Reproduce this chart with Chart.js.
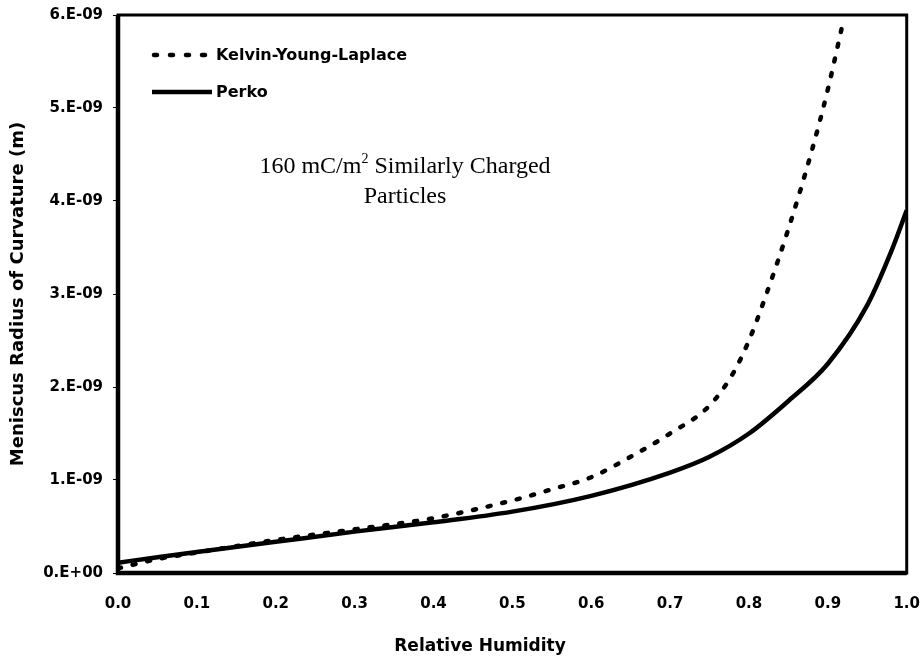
<!DOCTYPE html>
<html>
<head>
<meta charset="utf-8">
<script src="https://cdn.jsdelivr.net/npm/chart.js@4/dist/chart.umd.min.js"></script>
<style>
html,body{margin:0;padding:0;background:#fff;}
#wrap{width:922px;height:662px;}
</style>
</head>
<body>
<div id="wrap"><canvas id="c" width="922" height="662"></canvas></div>
<script>
const kelvinX = [0, 0.05, 0.1, 0.2, 0.3, 0.4, 0.5, 0.55, 0.6, 0.65, 0.7, 0.75, 0.78, 0.8, 0.82, 0.85, 0.88, 0.9, 0.92];
const kelvinY = [0.05e-9, 0.15e-9, 0.22e-9, 0.355e-9, 0.47e-9, 0.59e-9, 0.78e-9, 0.9e-9, 1.03e-9, 1.25e-9, 1.5e-9, 1.8e-9, 2.15e-9, 2.5e-9, 2.95e-9, 3.7e-9, 4.55e-9, 5.2e-9, 5.95e-9];
const perkoX = [0, 0.05, 0.1, 0.2, 0.3, 0.4, 0.5, 0.6, 0.7, 0.75, 0.8, 0.85, 0.9, 0.95, 0.98, 1.0];
const perkoY = [0.11e-9, 0.17e-9, 0.225e-9, 0.335e-9, 0.445e-9, 0.545e-9, 0.66e-9, 0.83e-9, 1.08e-9, 1.25e-9, 1.5e-9, 1.85e-9, 2.25e-9, 2.88e-9, 3.45e-9, 3.9e-9];
const xTickLabels = ['0.0','0.1','0.2','0.3','0.4','0.5','0.6','0.7','0.8','0.9','1.0'];
const yTickLabels = ['0.E+00','1.E-09','2.E-09','3.E-09','4.E-09','5.E-09','6.E-09'];
const seriesNames = ['Kelvin-Young-Laplace','Perko'];
const xTitle = 'Relative Humidity';
const yTitle = 'Meniscus Radius of Curvature (m)';
const noteLines = ['160 mC/m', ' Similarly Charged', 'Particles'];

const tickFont = {family:'"DejaVu Sans"', weight:'bold', size:15};

const overlay = {
  id:'overlay',
  afterDraw(chart){
    const ctx = chart.ctx, a = chart.chartArea;
    ctx.save();
    // frame
    ctx.strokeStyle = '#000';
    ctx.lineWidth = 3;
    ctx.strokeRect(a.left, a.top, a.right - a.left, a.bottom - a.top);
    ctx.lineWidth = 4.5;
    ctx.beginPath();
    ctx.moveTo(a.left, a.top); ctx.lineTo(a.left, a.bottom); ctx.lineTo(a.right, a.bottom);
    ctx.stroke();
    // legend
    ctx.font = 'bold 16px "DejaVu Sans"';
    ctx.fillStyle = '#000';
    ctx.textBaseline = 'middle';
    ctx.lineWidth = 4.5;
    ctx.lineCap = 'round';
    ctx.setLineDash([3, 13]);
    ctx.beginPath(); ctx.moveTo(a.left + 36, a.top + 40); ctx.lineTo(a.left + 92, a.top + 40); ctx.stroke();
    ctx.setLineDash([]);
    ctx.lineCap = 'butt';
    ctx.beginPath(); ctx.moveTo(a.left + 34, a.top + 77); ctx.lineTo(a.left + 94, a.top + 77); ctx.stroke();
    ctx.textAlign = 'left';
    ctx.fillText(seriesNames[0], a.left + 98, a.top + 41);
    ctx.fillText(seriesNames[1], a.left + 98, a.top + 78);
    // x title
    ctx.font = 'bold 17px "DejaVu Sans"';
    ctx.textAlign = 'center';
    ctx.fillText(xTitle, 480, 647);
    // annotation
    ctx.textAlign = 'left';
    ctx.font = '24px "Liberation Serif"';
    ctx.textBaseline = 'alphabetic';
    const w1 = ctx.measureText(noteLines[0]).width;
    ctx.font = '14px "Liberation Serif"';
    const ws = ctx.measureText('2').width;
    ctx.font = '24px "Liberation Serif"';
    const w2 = ctx.measureText(noteLines[1]).width;
    const cx = 405;
    let x0 = cx - (w1 + ws + w2) / 2;
    const y1 = 173;
    ctx.fillText(noteLines[0], x0, y1);
    ctx.font = '14px "Liberation Serif"';
    ctx.fillText('2', x0 + w1, y1 - 10);
    ctx.font = '24px "Liberation Serif"';
    ctx.fillText(noteLines[1], x0 + w1 + ws, y1);
    ctx.textAlign = 'center';
    ctx.fillText(noteLines[2], cx, y1 + 30);
    ctx.restore();
  }
};

new Chart(document.getElementById('c'), {
  type:'line',
  data:{
    datasets:[
      {label:seriesNames[0], data:kelvinX.map((x,i)=>({x, y:kelvinY[i]})), borderColor:'#000', borderWidth:4.5,
       borderDash:[3,12], borderCapStyle:'round', pointRadius:0, cubicInterpolationMode:'monotone', fill:false},
      {label:seriesNames[1], data:perkoX.map((x,i)=>({x, y:perkoY[i]})), borderColor:'#000', borderWidth:4.5,
       pointRadius:0, cubicInterpolationMode:'monotone', fill:false}
    ]
  },
  options:{
    responsive:false, animation:false,
    layout:{padding:{left:8, top:15, right:2, bottom:4}},
    plugins:{legend:{display:false}, tooltip:{enabled:false}},
    scales:{
      x:{type:'linear', min:0, max:1,
        ticks:{stepSize:0.1, color:'#000', font:tickFont, padding:2, maxRotation:0,
          callback:(v)=>{const i=Math.round(v*10); return xTickLabels[i];}},
        grid:{display:true, drawOnChartArea:false, tickLength:20, tickColor:'rgba(0,0,0,0)'},
        border:{display:false},
        afterFit:(s)=>{s.height = 662 - 573 - 4;}
      },
      y:{type:'linear', min:0, max:6e-9,
        ticks:{stepSize:1e-9, color:'#000', font:tickFont, padding:10,
          callback:(v)=>{const i=Math.round(v/1e-9); return yTickLabels[i];}},
        grid:{display:true, drawOnChartArea:false, tickLength:5, tickColor:'#000'},
        border:{display:false},
        title:{display:true, text:yTitle, color:'#000', font:{family:'"DejaVu Sans"', weight:'bold', size:18}, padding:{top:0,bottom:0}},
        afterFit:(s)=>{s.width = 118 - 8; s.paddingTop = 0; s.paddingBottom = 0;}
      }
    }
  },
  plugins:[overlay]
});
</script>
</body>
</html>
